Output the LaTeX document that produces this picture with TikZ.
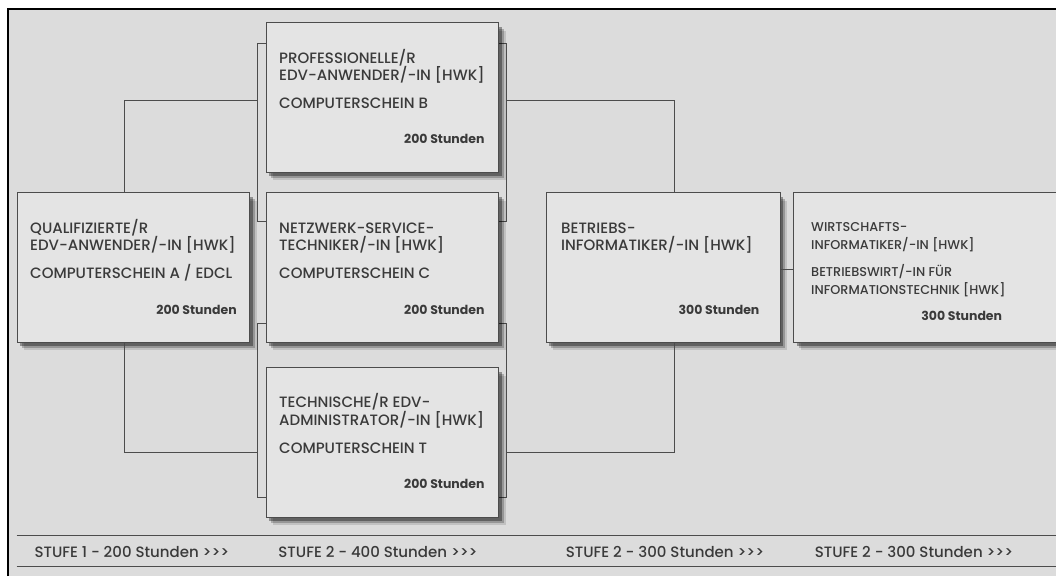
\documentclass[tikz,border=0pt]{standalone}
\usepackage{fontspec}
\setmainfont{Poppins}[UprightFont={* Medium}, BoldFont={* Bold}]
\usetikzlibrary{shadows}
\definecolor{bgcol}{HTML}{DCDCDC}
\definecolor{boxcol}{HTML}{E4E4E4}
\definecolor{linecol}{HTML}{4C4C4C}
\definecolor{txtcol}{HTML}{3A3A3A}
\begin{document}
\begin{tikzpicture}[x=1pt,y=-1pt,
  every node/.style={inner sep=0pt, text=txtcol, font=\fontsize{15}{17}\selectfont},
  course/.style={draw=linecol, line width=0.9pt, fill=boxcol, anchor=north west, minimum width=232.6pt, minimum height=149.4pt,
    drop shadow={shadow xshift=7pt, shadow yshift=-8pt, fill=black, opacity=0.12},
    drop shadow={shadow xshift=5pt, shadow yshift=-6pt, fill=black, opacity=0.22},
    drop shadow={shadow xshift=3pt, shadow yshift=-4pt, fill=black, opacity=0.35}},
  ttl/.style={anchor=base west},
  small/.style={anchor=base west, font=\fontsize{12.8}{14}\selectfont},
  hrs/.style={anchor=base east, font=\fontsize{12.5}{15}\selectfont\bfseries},
  conn/.style={draw=linecol, line width=0.9pt},
  stufe/.style={anchor=base, font=\fontsize{15}{17}\selectfont}]
\useasboundingbox (0,0) rectangle (1056,576);
\clip (0,0) rectangle (1056,576);
% frame
\fill[white] (0,0) rectangle (1056,576);
\fill[bgcol] (8,9) rectangle (1056,576);
\draw[line width=2.5pt, line join=miter] (8,576) -- (8,9) -- (1056,9);

% bracket corners
\coordinate (lu) at (257.7,100);
\coordinate (ru) at (506,100);
\coordinate (ll) at (257.7,452.3);
\coordinate (rl) at (506,452.3);

% connectors (behind the boxes)
\draw[conn] (265.7,43.3) -- (lu |- 0,43.3) |- (265.7,221.7);
\draw[conn] (498.3,43.3) -- (ru |- 0,43.3) |- (498.3,221.7);
\draw[conn] (265.7,323.3) -- (ll |- 0,323.3) |- (265.7,497.3);
\draw[conn] (498.3,323.3) -- (rl |- 0,323.3) |- (498.3,497.3);

% courses
\node[course] (qual) at (16.7,192.3) {};
\node[course] (prof) at (265.7,22.3) {};
\node[course] (netz) at (265.7,192.3) {};
\node[course] (tech) at (265.7,367.3) {};
\node[course, minimum width=234pt] (binf) at (546,192.3) {};
\node[course, minimum width=280pt] (winf) at (793.3,192.3) {};

\draw[conn] ([xshift=-8.7pt]qual.north) |- (lu);
\draw[conn] ([xshift=-8.7pt]qual.south) |- (ll);
\draw[conn] (ru) -| ([xshift=11.3pt]binf.north);
\draw[conn] (rl) -| ([xshift=11.3pt]binf.south);
\draw[conn] ([yshift=-1.7pt]binf.east) -- ([yshift=-1.7pt]binf.east -| winf.west);

\node[ttl] (qual-a) at ([xshift=13.3pt,yshift=-41pt]qual.north west) {QUALIFIZIERTE/R};
\node[ttl] (qual-b) at ([xshift=13.3pt,yshift=-58.5pt]qual.north west) {EDV-ANWENDER/-IN [HWK]};
\node[ttl] (qual-c) at ([xshift=13.3pt,yshift=-86.5pt]qual.north west) {COMPUTERSCHEIN A / EDCL};
\node[hrs] (qual-h) at ([xshift=-13.3pt,yshift=28.4pt]qual.south east) {200 Stunden};

\node[ttl] (prof-a) at ([xshift=13.3pt,yshift=-41pt]prof.north west) {PROFESSIONELLE/R};
\node[ttl] (prof-b) at ([xshift=13.3pt,yshift=-58.5pt]prof.north west) {EDV-ANWENDER/-IN [HWK]};
\node[ttl] (prof-c) at ([xshift=13.3pt,yshift=-86.5pt]prof.north west) {COMPUTERSCHEIN B};
\node[hrs] (prof-h) at ([xshift=-14.5pt,yshift=28.7pt]prof.south east) {200 Stunden};

\node[ttl] (netz-a) at ([xshift=13.3pt,yshift=-41pt]netz.north west) {NETZWERK-SERVICE-};
\node[ttl] (netz-b) at ([xshift=13.3pt,yshift=-58.5pt]netz.north west) {TECHNIKER/-IN [HWK]};
\node[ttl] (netz-c) at ([xshift=13.3pt,yshift=-86.5pt]netz.north west) {COMPUTERSCHEIN C};
\node[hrs] (netz-h) at ([xshift=-14.5pt,yshift=28.4pt]netz.south east) {200 Stunden};

\node[ttl] (tech-a) at ([xshift=13.3pt,yshift=-40pt]tech.north west) {TECHNISCHE/R EDV-};
\node[ttl] (tech-b) at ([xshift=13.3pt,yshift=-57.7pt]tech.north west) {ADMINISTRATOR/-IN [HWK]};
\node[ttl] (tech-c) at ([xshift=13.3pt,yshift=-86pt]tech.north west) {COMPUTERSCHEIN T};
\node[hrs] (tech-h) at ([xshift=-14.5pt,yshift=28.7pt]tech.south east) {200 Stunden};

\node[ttl] (binf-a) at ([xshift=15pt,yshift=-41pt]binf.north west) {BETRIEBS-};
\node[ttl] (binf-b) at ([xshift=15pt,yshift=-58.5pt]binf.north west) {INFORMATIKER/-IN [HWK]};
\node[hrs] (binf-h) at ([xshift=-21.3pt,yshift=28.4pt]binf.south east) {300 Stunden};

\node[small] (winf-a) at ([xshift=17.7pt,yshift=-39.4pt]winf.north west) {WIRTSCHAFTS-};
\node[small] (winf-b) at ([xshift=17.7pt,yshift=-57pt]winf.north west) {INFORMATIKER/-IN [HWK]};
\node[small] (winf-c) at ([xshift=17.7pt,yshift=-84.4pt]winf.north west) {BETRIEBSWIRT/-IN FÜR};
\node[small] (winf-d) at ([xshift=17.7pt,yshift=-102pt]winf.north west) {INFORMATIONSTECHNIK [HWK]};
\node[hrs] (winf-h) at (1002.3,320) {300 Stunden};

% levels
\draw[conn] (16.7,535.7) -- (1056,535.7);
\draw[conn] (16.7,566.7) -- (1056,566.7);
\node[stufe] (st1) at (131.9,557.5) {STUFE 1 - 200 Stunden >{}>{}>};
\node[stufe] (st2) at (378,557.5) {STUFE 2 - 400 Stunden >{}>{}>};
\node[stufe] (st3) at (665,557.5) {STUFE 2 - 300 Stunden >{}>{}>};
\node[stufe] (st4) at (914,557.5) {STUFE 2 - 300 Stunden >{}>{}>};
\end{tikzpicture}
\end{document}
